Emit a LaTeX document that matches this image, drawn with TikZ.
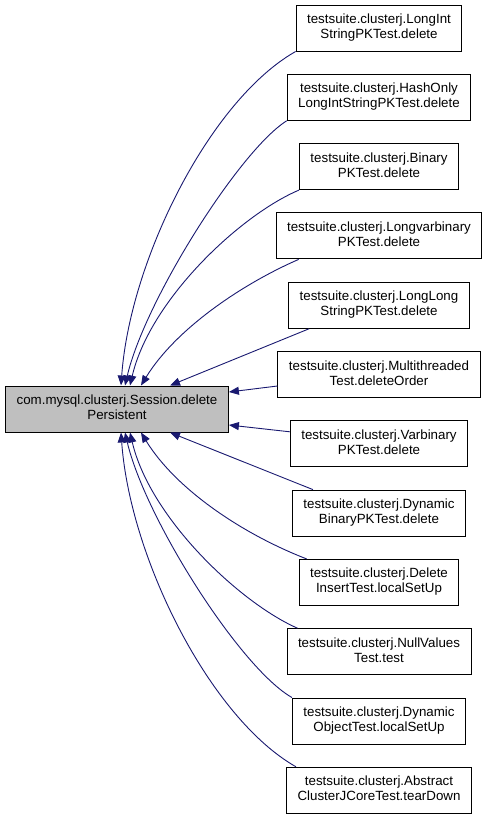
\documentclass[tikz,border=0pt]{standalone}
\usepackage{fontspec}
\setmainfont{Liberation Sans}
\usetikzlibrary{arrows.meta}
\definecolor{edgeblue}{HTML}{191970}
\definecolor{boxgray}{HTML}{BFBFBF}
\newcommand\twol[2]{\begin{tabular}{@{}c@{}}#1\\#2\end{tabular}}
\begin{document}
\begin{tikzpicture}[x=1pt,y=-1pt,
  box/.style={draw=black, line width=1pt,
    font=\fontsize{13.33pt}{15pt}\selectfont,
    inner xsep=11pt, inner ysep=0pt, minimum height=46pt},
  rbox/.style={box, fill=white},
  lbox/.style={box, fill=boxgray},
  callarrow/.style={draw=edgeblue, line width=0.9pt,
    -{Triangle[length=10pt,width=8pt]}}]
\useasboundingbox (0,0) rectangle (485,819);
\node[lbox] (L) at (117,409) {\twol{com.mysql.clusterj.Session.delete}{Persistent}};
\node[rbox] (r1) at (379,28.0) {\twol{testsuite.clusterj.LongInt}{StringPKTest.delete}};
\node[rbox] (r2) at (379,97.3) {\twol{testsuite.clusterj.HashOnly}{LongIntStringPKTest.delete}};
\node[rbox] (r3) at (379,166.6) {\twol{testsuite.clusterj.Binary}{PKTest.delete}};
\node[rbox] (r4) at (379,235.9) {\twol{testsuite.clusterj.Longvarbinary}{PKTest.delete}};
\node[rbox] (r5) at (379,305.2) {\twol{testsuite.clusterj.LongLong}{StringPKTest.delete}};
\node[rbox] (r6) at (379,374.5) {\twol{testsuite.clusterj.Multithreaded}{Test.deleteOrder}};
\node[rbox] (r7) at (379,443.8) {\twol{testsuite.clusterj.Varbinary}{PKTest.delete}};
\node[rbox] (r8) at (379,513.1) {\twol{testsuite.clusterj.Dynamic}{BinaryPKTest.delete}};
\node[rbox] (r9) at (379,582.4) {\twol{testsuite.clusterj.Delete}{InsertTest.localSetUp}};
\node[rbox] (r10) at (379,651.7) {\twol{testsuite.clusterj.NullValues}{Test.test}};
\node[rbox] (r11) at (379,721.0) {\twol{testsuite.clusterj.Dynamic}{ObjectTest.localSetUp}};
\node[rbox] (r12) at (379,790.3) {\twol{testsuite.clusterj.Abstract}{ClusterJCoreTest.tearDown}};
% upper
\draw[callarrow] (r1.south west) .. controls (210,100) and (130,260) .. ([xshift=4pt]L.north);
\draw[callarrow] (r2.south west) .. controls (240,150) and (145,300) .. ([xshift=8pt]L.north);
\draw[callarrow] (r3.south west) .. controls (240,215) and (150,300) .. ([xshift=13pt]L.north);
\draw[callarrow] ([xshift=23pt]r4.south west) .. controls (240,285) and (175,330) .. ([xshift=24pt]L.north);
\draw[callarrow] ([xshift=21pt]r5.south west) -- ([xshift=53pt]L.north);
\draw[callarrow] ([yshift=-11.5pt]r6.west) -- ([yshift=17pt]L.east);
% lower
\draw[callarrow] ([yshift=12pt]r7.west) -- ([yshift=-16pt]L.east);
\draw[callarrow] ([xshift=21pt]r8.north west) -- ([xshift=53pt]L.south);
\draw[callarrow] ([xshift=8pt]r9.north west) .. controls (240,533) and (175,488) .. ([xshift=24pt]L.south);
\draw[callarrow] ([xshift=11pt]r10.north west) .. controls (240,603) and (150,518) .. ([xshift=13pt]L.south);
\draw[callarrow] (r11.north west) .. controls (240,668) and (145,518) .. ([xshift=8pt]L.south);
\draw[callarrow] ([xshift=10pt]r12.north west) .. controls (210,718) and (130,558) .. ([xshift=4pt]L.south);
\end{tikzpicture}
\end{document}
